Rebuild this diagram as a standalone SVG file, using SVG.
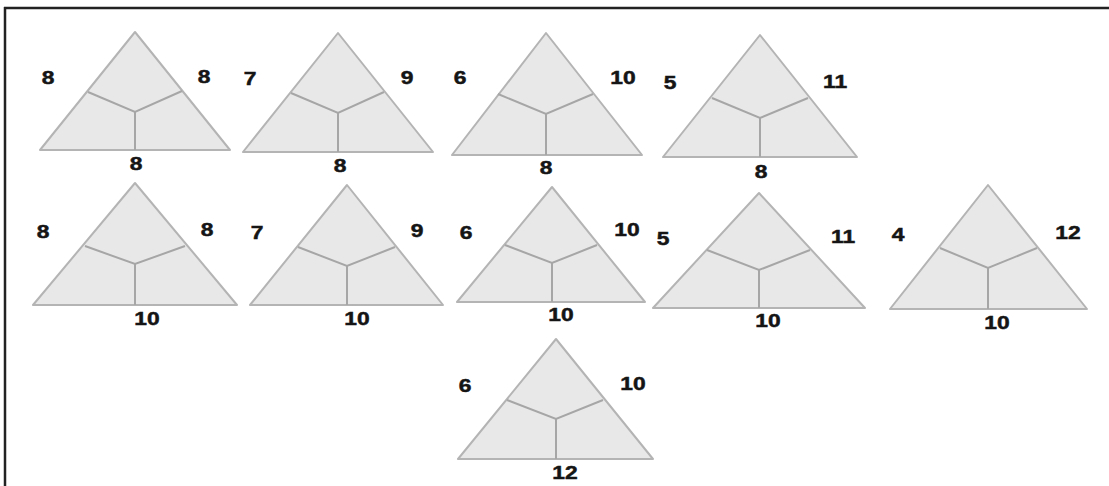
<svg xmlns="http://www.w3.org/2000/svg" width="1109" height="486" viewBox="0 0 1109 486">
<style>
.tri{fill:#e8e8e8;stroke:#b4b4b4;stroke-width:2;stroke-linejoin:round}
.in{fill:none;stroke:#a6a6a6;stroke-width:2}
.lb{font-family:"Liberation Sans",Arial,sans-serif;font-weight:bold;font-size:19px;fill:#151515;stroke:#151515;stroke-width:0.5;text-anchor:middle}
</style>
<rect width="1109" height="486" fill="#ffffff"/>
<g id="frame" stroke="#222" stroke-width="2.5" fill="none">
<line x1="4" y1="8" x2="1109" y2="8"/>
<line x1="5" y1="7" x2="5" y2="486"/>
</g>
<g id="t1">
<polygon class="tri" points="135,32 40,150 230,150"/>
<polyline class="in" points="88,92 135,112 182,91"/><line class="in" x1="135" y1="112" x2="135" y2="150"/>
<text class="lb" transform="translate(48,84) scale(1.2,1)">8</text>
<text class="lb" transform="translate(204,83) scale(1.2,1)">8</text>
<text class="lb" transform="translate(136,170) scale(1.2,1)">8</text>
</g>
<g id="t2">
<polygon class="tri" points="338,33 243,152 433,152"/>
<polyline class="in" points="291,93 338,113 384,92"/><line class="in" x1="338" y1="113" x2="338" y2="152"/>
<text class="lb" transform="translate(250,85) scale(1.2,1)">7</text>
<text class="lb" transform="translate(407,84) scale(1.2,1)">9</text>
<text class="lb" transform="translate(340,172) scale(1.2,1)">8</text>
</g>
<g id="t3">
<polygon class="tri" points="546,33 452,155 642,155"/>
<polyline class="in" points="498,94 546,114 593,94"/><line class="in" x1="546" y1="114" x2="546" y2="155"/>
<text class="lb" transform="translate(460,84) scale(1.2,1)">6</text>
<text class="lb" transform="translate(623,84) scale(1.2,1)">10</text>
<text class="lb" transform="translate(546,174) scale(1.2,1)">8</text>
</g>
<g id="t4">
<polygon class="tri" points="760,35 663,157 857,157"/>
<polyline class="in" points="712,98 760,118 808,98"/><line class="in" x1="760" y1="118" x2="760" y2="157"/>
<text class="lb" transform="translate(670,89) scale(1.2,1)">5</text>
<text class="lb" transform="translate(835,88) scale(1.2,1)">11</text>
<text class="lb" transform="translate(761,178) scale(1.2,1)">8</text>
</g>
<g id="t5">
<polygon class="tri" points="135,183 33,305 237,305"/>
<polyline class="in" points="85,246 135,264 185,246"/><line class="in" x1="135" y1="264" x2="135" y2="305"/>
<text class="lb" transform="translate(43,238) scale(1.2,1)">8</text>
<text class="lb" transform="translate(207,236) scale(1.2,1)">8</text>
<text class="lb" transform="translate(147,325) scale(1.2,1)">10</text>
</g>
<g id="t6">
<polygon class="tri" points="347,185 250,305 443,305"/>
<polyline class="in" points="298,247 347,266 395,247"/><line class="in" x1="347" y1="266" x2="347" y2="305"/>
<text class="lb" transform="translate(257,239) scale(1.2,1)">7</text>
<text class="lb" transform="translate(417,237) scale(1.2,1)">9</text>
<text class="lb" transform="translate(357,325) scale(1.2,1)">10</text>
</g>
<g id="t7">
<polygon class="tri" points="552,187 457,302 645,302"/>
<polyline class="in" points="505,245 552,263 597,245"/><line class="in" x1="552" y1="263" x2="552" y2="302"/>
<text class="lb" transform="translate(466,239) scale(1.2,1)">6</text>
<text class="lb" transform="translate(627,236) scale(1.2,1)">10</text>
<text class="lb" transform="translate(561,321) scale(1.2,1)">10</text>
</g>
<g id="t8">
<polygon class="tri" points="759,193 653,308 865,308"/>
<polyline class="in" points="707,250 759,270 810,250"/><line class="in" x1="759" y1="270" x2="759" y2="308"/>
<text class="lb" transform="translate(663,245) scale(1.2,1)">5</text>
<text class="lb" transform="translate(843,243) scale(1.2,1)">11</text>
<text class="lb" transform="translate(768,327) scale(1.2,1)">10</text>
</g>
<g id="t9">
<polygon class="tri" points="988,185 890,309 1087,309"/>
<polyline class="in" points="940,248 988,268 1037,248"/><line class="in" x1="988" y1="268" x2="988" y2="309"/>
<text class="lb" transform="translate(898,241) scale(1.2,1)">4</text>
<text class="lb" transform="translate(1068,239) scale(1.2,1)">12</text>
<text class="lb" transform="translate(997,329) scale(1.2,1)">10</text>
</g>
<g id="t10">
<polygon class="tri" points="556,339 458,459 653,459"/>
<polyline class="in" points="507,400 556,419 603,400"/><line class="in" x1="556" y1="419" x2="556" y2="459"/>
<text class="lb" transform="translate(465,392) scale(1.2,1)">6</text>
<text class="lb" transform="translate(633,390) scale(1.2,1)">10</text>
<text class="lb" transform="translate(565,479) scale(1.2,1)">12</text>
</g>
</svg>
